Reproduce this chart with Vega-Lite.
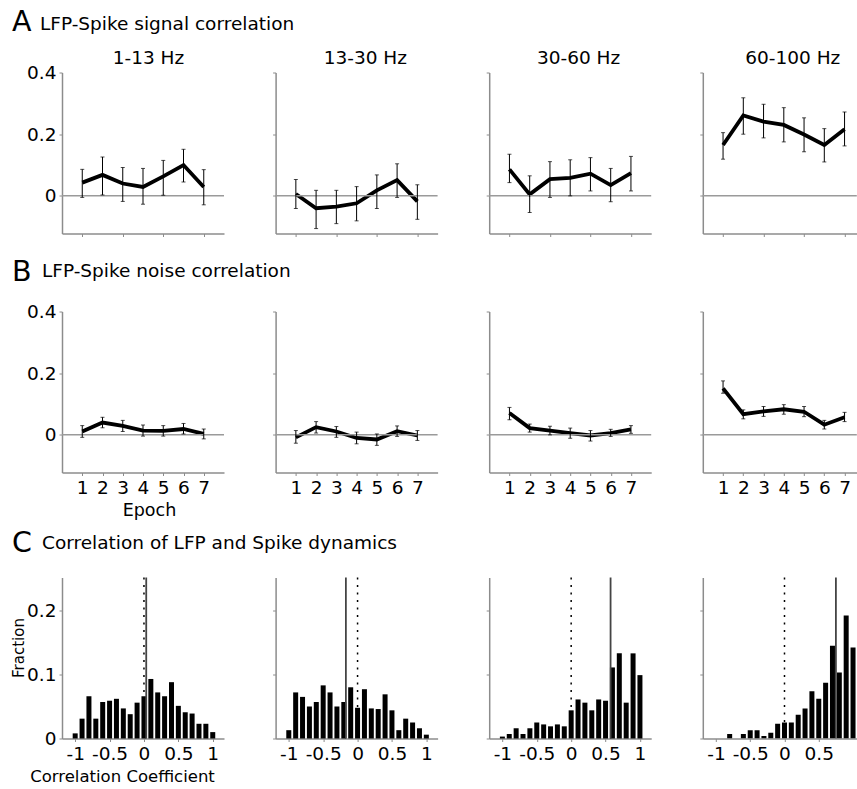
{
"$schema": "https://vega.github.io/schema/vega-lite/v6.json",
"padding": {"left": 10, "top": 7.5, "right": 0, "bottom": 0},
"config": {
  "font": "DejaVu Sans",
  "view": {"stroke": null},
  "axis": {"domainColor": "#8c8c8c", "domainWidth": 1.5, "tickColor": "#8c8c8c", "tickWidth": 1, "tickSize": 3, "labelFont": "DejaVu Sans", "labelFontSize": 18.5, "labelColor": "black", "titleFont": "DejaVu Sans", "titleFontSize": 16.5, "titleFontWeight": "normal", "titleColor": "black", "grid": false, "labelPadding": 3, "labelOverlap": false},
  "title": {"font": "DejaVu Sans", "fontWeight": "normal", "color": "black", "fontSize": 18.5, "baseline": "alphabetic", "offset": 5}
},
"datasets": {
  "lines": [
    {"row":"signal","band":"1-13 Hz","epoch":1,"mean":0.043,"lo":-0.005,"hi":0.086},
    {"row":"signal","band":"1-13 Hz","epoch":2,"mean":0.068,"lo":0.003,"hi":0.126},
    {"row":"signal","band":"1-13 Hz","epoch":3,"mean":0.040,"lo":-0.018,"hi":0.092},
    {"row":"signal","band":"1-13 Hz","epoch":4,"mean":0.029,"lo":-0.027,"hi":0.089},
    {"row":"signal","band":"1-13 Hz","epoch":5,"mean":0.063,"lo":0.002,"hi":0.115},
    {"row":"signal","band":"1-13 Hz","epoch":6,"mean":0.100,"lo":0.045,"hi":0.151},
    {"row":"signal","band":"1-13 Hz","epoch":7,"mean":0.029,"lo":-0.029,"hi":0.085},
    {"row":"signal","band":"13-30 Hz","epoch":1,"mean":0.006,"lo":-0.041,"hi":0.053},
    {"row":"signal","band":"13-30 Hz","epoch":2,"mean":-0.040,"lo":-0.106,"hi":0.018},
    {"row":"signal","band":"13-30 Hz","epoch":3,"mean":-0.035,"lo":-0.090,"hi":0.018},
    {"row":"signal","band":"13-30 Hz","epoch":4,"mean":-0.024,"lo":-0.081,"hi":0.030},
    {"row":"signal","band":"13-30 Hz","epoch":5,"mean":0.018,"lo":-0.041,"hi":0.068},
    {"row":"signal","band":"13-30 Hz","epoch":6,"mean":0.051,"lo":-0.005,"hi":0.104},
    {"row":"signal","band":"13-30 Hz","epoch":7,"mean":-0.018,"lo":-0.076,"hi":0.036},
    {"row":"signal","band":"30-60 Hz","epoch":1,"mean":0.086,"lo":0.043,"hi":0.135},
    {"row":"signal","band":"30-60 Hz","epoch":2,"mean":0.005,"lo":-0.054,"hi":0.065},
    {"row":"signal","band":"30-60 Hz","epoch":3,"mean":0.054,"lo":-0.005,"hi":0.111},
    {"row":"signal","band":"30-60 Hz","epoch":4,"mean":0.058,"lo":0.000,"hi":0.117},
    {"row":"signal","band":"30-60 Hz","epoch":5,"mean":0.072,"lo":0.016,"hi":0.124},
    {"row":"signal","band":"30-60 Hz","epoch":6,"mean":0.035,"lo":-0.019,"hi":0.089},
    {"row":"signal","band":"30-60 Hz","epoch":7,"mean":0.074,"lo":0.016,"hi":0.128},
    {"row":"signal","band":"60-100 Hz","epoch":1,"mean":0.165,"lo":0.119,"hi":0.205},
    {"row":"signal","band":"60-100 Hz","epoch":2,"mean":0.261,"lo":0.200,"hi":0.318},
    {"row":"signal","band":"60-100 Hz","epoch":3,"mean":0.241,"lo":0.188,"hi":0.297},
    {"row":"signal","band":"60-100 Hz","epoch":4,"mean":0.230,"lo":0.175,"hi":0.286},
    {"row":"signal","band":"60-100 Hz","epoch":5,"mean":0.199,"lo":0.143,"hi":0.253},
    {"row":"signal","band":"60-100 Hz","epoch":6,"mean":0.165,"lo":0.110,"hi":0.218},
    {"row":"signal","band":"60-100 Hz","epoch":7,"mean":0.216,"lo":0.162,"hi":0.272},
    {"row":"noise","band":"1-13 Hz","epoch":1,"mean":0.011,"lo":-0.008,"hi":0.030},
    {"row":"noise","band":"1-13 Hz","epoch":2,"mean":0.040,"lo":0.023,"hi":0.057},
    {"row":"noise","band":"1-13 Hz","epoch":3,"mean":0.029,"lo":0.011,"hi":0.047},
    {"row":"noise","band":"1-13 Hz","epoch":4,"mean":0.014,"lo":-0.004,"hi":0.032},
    {"row":"noise","band":"1-13 Hz","epoch":5,"mean":0.013,"lo":-0.004,"hi":0.030},
    {"row":"noise","band":"1-13 Hz","epoch":6,"mean":0.019,"lo":0.003,"hi":0.037},
    {"row":"noise","band":"1-13 Hz","epoch":7,"mean":0.003,"lo":-0.013,"hi":0.019},
    {"row":"noise","band":"13-30 Hz","epoch":1,"mean":-0.008,"lo":-0.027,"hi":0.014},
    {"row":"noise","band":"13-30 Hz","epoch":2,"mean":0.025,"lo":0.006,"hi":0.043},
    {"row":"noise","band":"13-30 Hz","epoch":3,"mean":0.011,"lo":-0.008,"hi":0.027},
    {"row":"noise","band":"13-30 Hz","epoch":4,"mean":-0.010,"lo":-0.029,"hi":0.009},
    {"row":"noise","band":"13-30 Hz","epoch":5,"mean":-0.015,"lo":-0.034,"hi":0.003},
    {"row":"noise","band":"13-30 Hz","epoch":6,"mean":0.012,"lo":-0.005,"hi":0.029},
    {"row":"noise","band":"13-30 Hz","epoch":7,"mean":-0.002,"lo":-0.018,"hi":0.014},
    {"row":"noise","band":"30-60 Hz","epoch":1,"mean":0.071,"lo":0.049,"hi":0.089},
    {"row":"noise","band":"30-60 Hz","epoch":2,"mean":0.022,"lo":0.009,"hi":0.035},
    {"row":"noise","band":"30-60 Hz","epoch":3,"mean":0.014,"lo":0.000,"hi":0.028},
    {"row":"noise","band":"30-60 Hz","epoch":4,"mean":0.006,"lo":-0.011,"hi":0.022},
    {"row":"noise","band":"30-60 Hz","epoch":5,"mean":-0.002,"lo":-0.020,"hi":0.014},
    {"row":"noise","band":"30-60 Hz","epoch":6,"mean":0.006,"lo":-0.005,"hi":0.018},
    {"row":"noise","band":"30-60 Hz","epoch":7,"mean":0.018,"lo":0.005,"hi":0.030},
    {"row":"noise","band":"60-100 Hz","epoch":1,"mean":0.151,"lo":0.135,"hi":0.175},
    {"row":"noise","band":"60-100 Hz","epoch":2,"mean":0.067,"lo":0.052,"hi":0.081},
    {"row":"noise","band":"60-100 Hz","epoch":3,"mean":0.076,"lo":0.060,"hi":0.092},
    {"row":"noise","band":"60-100 Hz","epoch":4,"mean":0.083,"lo":0.067,"hi":0.098},
    {"row":"noise","band":"60-100 Hz","epoch":5,"mean":0.075,"lo":0.059,"hi":0.092},
    {"row":"noise","band":"60-100 Hz","epoch":6,"mean":0.033,"lo":0.019,"hi":0.047},
    {"row":"noise","band":"60-100 Hz","epoch":7,"mean":0.057,"lo":0.043,"hi":0.073}
  ],
  "hist": [
    {"band":"1-13 Hz","r":-1,"frac":0.008},{"band":"1-13 Hz","r":-0.9,"frac":0.031},{"band":"1-13 Hz","r":-0.8,"frac":0.066},{"band":"1-13 Hz","r":-0.7,"frac":0.031},{"band":"1-13 Hz","r":-0.6,"frac":0.057},{"band":"1-13 Hz","r":-0.5,"frac":0.059},{"band":"1-13 Hz","r":-0.4,"frac":0.062},{"band":"1-13 Hz","r":-0.3,"frac":0.047},{"band":"1-13 Hz","r":-0.2,"frac":0.038},{"band":"1-13 Hz","r":-0.1,"frac":0.056},{"band":"1-13 Hz","r":0,"frac":0.066},{"band":"1-13 Hz","r":0.1,"frac":0.093},{"band":"1-13 Hz","r":0.2,"frac":0.072},{"band":"1-13 Hz","r":0.3,"frac":0.066},{"band":"1-13 Hz","r":0.4,"frac":0.088},{"band":"1-13 Hz","r":0.5,"frac":0.051},{"band":"1-13 Hz","r":0.6,"frac":0.041},{"band":"1-13 Hz","r":0.7,"frac":0.039},{"band":"1-13 Hz","r":0.8,"frac":0.023},{"band":"1-13 Hz","r":0.9,"frac":0.023},{"band":"1-13 Hz","r":1,"frac":0.010},
    {"band":"13-30 Hz","r":-1,"frac":0.013},{"band":"13-30 Hz","r":-0.9,"frac":0.072},{"band":"13-30 Hz","r":-0.8,"frac":0.065},{"band":"13-30 Hz","r":-0.7,"frac":0.050},{"band":"13-30 Hz","r":-0.6,"frac":0.057},{"band":"13-30 Hz","r":-0.5,"frac":0.083},{"band":"13-30 Hz","r":-0.4,"frac":0.072},{"band":"13-30 Hz","r":-0.3,"frac":0.050},{"band":"13-30 Hz","r":-0.2,"frac":0.057},{"band":"13-30 Hz","r":-0.1,"frac":0.080},{"band":"13-30 Hz","r":0,"frac":0.048},{"band":"13-30 Hz","r":0.1,"frac":0.077},{"band":"13-30 Hz","r":0.2,"frac":0.047},{"band":"13-30 Hz","r":0.3,"frac":0.046},{"band":"13-30 Hz","r":0.4,"frac":0.069},{"band":"13-30 Hz","r":0.5,"frac":0.044},{"band":"13-30 Hz","r":0.6,"frac":0.013},{"band":"13-30 Hz","r":0.7,"frac":0.031},{"band":"13-30 Hz","r":0.8,"frac":0.025},{"band":"13-30 Hz","r":0.9,"frac":0.016},{"band":"13-30 Hz","r":1,"frac":0.006},
    {"band":"30-60 Hz","r":-1,"frac":0.003},{"band":"30-60 Hz","r":-0.9,"frac":0.007},{"band":"30-60 Hz","r":-0.8,"frac":0.016},{"band":"30-60 Hz","r":-0.7,"frac":0.007},{"band":"30-60 Hz","r":-0.6,"frac":0.016},{"band":"30-60 Hz","r":-0.5,"frac":0.025},{"band":"30-60 Hz","r":-0.4,"frac":0.022},{"band":"30-60 Hz","r":-0.3,"frac":0.019},{"band":"30-60 Hz","r":-0.2,"frac":0.022},{"band":"30-60 Hz","r":-0.1,"frac":0.019},{"band":"30-60 Hz","r":0,"frac":0.044},{"band":"30-60 Hz","r":0.1,"frac":0.061},{"band":"30-60 Hz","r":0.2,"frac":0.056},{"band":"30-60 Hz","r":0.3,"frac":0.044},{"band":"30-60 Hz","r":0.4,"frac":0.061},{"band":"30-60 Hz","r":0.5,"frac":0.059},{"band":"30-60 Hz","r":0.6,"frac":0.111},{"band":"30-60 Hz","r":0.7,"frac":0.133},{"band":"30-60 Hz","r":0.8,"frac":0.056},{"band":"30-60 Hz","r":0.9,"frac":0.133},{"band":"30-60 Hz","r":1,"frac":0.099},
    {"band":"60-100 Hz","r":-0.8,"frac":0.007},{"band":"60-100 Hz","r":-0.6,"frac":0.007},{"band":"60-100 Hz","r":-0.5,"frac":0.013},{"band":"60-100 Hz","r":-0.4,"frac":0.013},{"band":"60-100 Hz","r":-0.3,"frac":0.004},{"band":"60-100 Hz","r":-0.2,"frac":0.009},{"band":"60-100 Hz","r":-0.1,"frac":0.023},{"band":"60-100 Hz","r":0,"frac":0.025},{"band":"60-100 Hz","r":0.1,"frac":0.025},{"band":"60-100 Hz","r":0.2,"frac":0.037},{"band":"60-100 Hz","r":0.3,"frac":0.047},{"band":"60-100 Hz","r":0.4,"frac":0.074},{"band":"60-100 Hz","r":0.5,"frac":0.062},{"band":"60-100 Hz","r":0.6,"frac":0.087},{"band":"60-100 Hz","r":0.7,"frac":0.145},{"band":"60-100 Hz","r":0.8,"frac":0.103},{"band":"60-100 Hz","r":0.9,"frac":0.192},{"band":"60-100 Hz","r":1,"frac":0.142}
  ],
  "med": [
    {"band":"1-13 Hz","median":0.033},
    {"band":"13-30 Hz","median":-0.17},
    {"band":"30-60 Hz","median":0.573},
    {"band":"60-100 Hz","median":0.75}
  ]
},
"bounds": "flush",
"spacing": 239,
"vconcat": [
  {
    "title": {"text": "A", "fontSize": 28.5, "anchor": "start", "frame": "group", "dx": -50, "offset": -21.2},
    "bounds": "flush",
    "vconcat": [
      {
        "title": {"text": "LFP-Spike signal correlation", "anchor": "start", "frame": "group", "dx": -22, "offset": 15.2},
        "bounds": "flush",
        "spacing": 51.6,
        "hconcat": [
          {"width": 162, "height": 161, "title": {"text": "1-13 Hz", "dx": 5.5, "offset": -4.2},
           "layer": [
            {"data": {"name": "lines"}, "transform": [{"filter": "datum.row == 'signal' && datum.band == '1-13 Hz'"}], "mark": {"type": "line", "color": "black", "strokeWidth": 3.8}, "encoding": {"x": {"field": "epoch", "type": "quantitative", "scale": {"domain": [0, 8]}, "axis": {"values": [1,2,3,4,5,6,7], "labels": false, "title": null}}, "y": {"field": "mean", "type": "quantitative", "scale": {"domain": [-0.122, 0.4]}, "axis": {"values": [0, 0.2, 0.4], "format": "~g", "title": null}}}},
            {"data": {"values": [{}]}, "mark": {"type": "rule", "color": "#9a9a9a", "strokeWidth": 1.5}, "encoding": {"y": {"datum": 0, "type": "quantitative", "scale": {"domain": [-0.122, 0.4]}}}},
            {"data": {"name": "lines"}, "transform": [{"filter": "datum.row == 'signal' && datum.band == '1-13 Hz'"}], "mark": {"type": "errorbar", "color": "black", "thickness": 1, "ticks": {"size": 4}}, "encoding": {"x": {"field": "epoch", "type": "quantitative", "scale": {"domain": [0, 8]}}, "y": {"field": "lo", "type": "quantitative", "scale": {"domain": [-0.122, 0.4]}}, "y2": {"field": "hi"}}}
           ]},
          {"width": 162, "height": 161, "title": {"text": "13-30 Hz", "dx": 8.7},
           "layer": [
            {"data": {"name": "lines"}, "transform": [{"filter": "datum.row == 'signal' && datum.band == '13-30 Hz'"}], "mark": {"type": "line", "color": "black", "strokeWidth": 3.8}, "encoding": {"x": {"field": "epoch", "type": "quantitative", "scale": {"domain": [0, 8]}, "axis": {"values": [1,2,3,4,5,6,7], "labels": false, "title": null}}, "y": {"field": "mean", "type": "quantitative", "scale": {"domain": [-0.122, 0.4]}, "axis": {"values": [0, 0.2, 0.4], "labels": false, "title": null}}}},
            {"data": {"values": [{}]}, "mark": {"type": "rule", "color": "#9a9a9a", "strokeWidth": 1.5}, "encoding": {"y": {"datum": 0, "type": "quantitative", "scale": {"domain": [-0.122, 0.4]}}}},
            {"data": {"name": "lines"}, "transform": [{"filter": "datum.row == 'signal' && datum.band == '13-30 Hz'"}], "mark": {"type": "errorbar", "color": "black", "thickness": 1, "ticks": {"size": 4}}, "encoding": {"x": {"field": "epoch", "type": "quantitative", "scale": {"domain": [0, 8]}}, "y": {"field": "lo", "type": "quantitative", "scale": {"domain": [-0.122, 0.4]}}, "y2": {"field": "hi"}}}
           ]},
          {"width": 162, "height": 161, "title": {"text": "30-60 Hz", "dx": 8.4},
           "layer": [
            {"data": {"name": "lines"}, "transform": [{"filter": "datum.row == 'signal' && datum.band == '30-60 Hz'"}], "mark": {"type": "line", "color": "black", "strokeWidth": 3.8}, "encoding": {"x": {"field": "epoch", "type": "quantitative", "scale": {"domain": [0, 8]}, "axis": {"values": [1,2,3,4,5,6,7], "labels": false, "title": null}}, "y": {"field": "mean", "type": "quantitative", "scale": {"domain": [-0.122, 0.4]}, "axis": {"values": [0, 0.2, 0.4], "labels": false, "title": null}}}},
            {"data": {"values": [{}]}, "mark": {"type": "rule", "color": "#9a9a9a", "strokeWidth": 1.5}, "encoding": {"y": {"datum": 0, "type": "quantitative", "scale": {"domain": [-0.122, 0.4]}}}},
            {"data": {"name": "lines"}, "transform": [{"filter": "datum.row == 'signal' && datum.band == '30-60 Hz'"}], "mark": {"type": "errorbar", "color": "black", "thickness": 1, "ticks": {"size": 4}}, "encoding": {"x": {"field": "epoch", "type": "quantitative", "scale": {"domain": [0, 8]}}, "y": {"field": "lo", "type": "quantitative", "scale": {"domain": [-0.122, 0.4]}}, "y2": {"field": "hi"}}}
           ]},
          {"width": 154, "height": 161, "title": {"text": "60-100 Hz", "dx": 13},
           "layer": [
            {"data": {"name": "lines"}, "transform": [{"filter": "datum.row == 'signal' && datum.band == '60-100 Hz'"}], "mark": {"type": "line", "color": "black", "strokeWidth": 3.8}, "encoding": {"x": {"field": "epoch", "type": "quantitative", "scale": {"domain": [0, 7.605]}, "axis": {"values": [1,2,3,4,5,6,7], "labels": false, "title": null}}, "y": {"field": "mean", "type": "quantitative", "scale": {"domain": [-0.122, 0.4]}, "axis": {"values": [0, 0.2, 0.4], "labels": false, "title": null}}}},
            {"data": {"values": [{}]}, "mark": {"type": "rule", "color": "#9a9a9a", "strokeWidth": 1.5}, "encoding": {"y": {"datum": 0, "type": "quantitative", "scale": {"domain": [-0.122, 0.4]}}}},
            {"data": {"name": "lines"}, "transform": [{"filter": "datum.row == 'signal' && datum.band == '60-100 Hz'"}], "mark": {"type": "errorbar", "color": "black", "thickness": 1, "ticks": {"size": 4}}, "encoding": {"x": {"field": "epoch", "type": "quantitative", "scale": {"domain": [0, 7.605]}}, "y": {"field": "lo", "type": "quantitative", "scale": {"domain": [-0.122, 0.4]}}, "y2": {"field": "hi"}}}
           ]}
        ]
      }
    ]
  },
  {
    "bounds": "flush",
    "spacing": 266,
    "vconcat": [
      {
        "title": {"text": "B", "fontSize": 28.5, "anchor": "start", "frame": "group", "dx": -50, "offset": -24},
        "bounds": "flush",
        "vconcat": [
          {
            "title": {"text": "LFP-Spike noise correlation", "anchor": "start", "frame": "group", "dx": -20, "offset": 22},
            "bounds": "flush",
            "spacing": 51.6,
            "hconcat": [
              {"width": 162, "height": 161,
               "layer": [
                {"data": {"name": "lines"}, "transform": [{"filter": "datum.row == 'noise' && datum.band == '1-13 Hz'"}], "mark": {"type": "line", "color": "black", "strokeWidth": 3.8}, "encoding": {"x": {"field": "epoch", "type": "quantitative", "scale": {"domain": [0, 8]}, "axis": {"values": [1,2,3,4,5,6,7], "format": "d", "labelOverlap": false, "labelFlush": false, "title": "Epoch", "titleX": 87, "titleFontSize": 17.5}}, "y": {"field": "mean", "type": "quantitative", "scale": {"domain": [-0.122, 0.4]}, "axis": {"values": [0, 0.2, 0.4], "format": "~g", "title": null}}}},
                {"data": {"values": [{}]}, "mark": {"type": "rule", "color": "#9a9a9a", "strokeWidth": 1.5}, "encoding": {"y": {"datum": 0, "type": "quantitative", "scale": {"domain": [-0.122, 0.4]}}}},
                {"data": {"name": "lines"}, "transform": [{"filter": "datum.row == 'noise' && datum.band == '1-13 Hz'"}], "mark": {"type": "errorbar", "color": "black", "thickness": 1, "ticks": {"size": 4}}, "encoding": {"x": {"field": "epoch", "type": "quantitative", "scale": {"domain": [0, 8]}, "axis": {"values": [1,2,3,4,5,6,7], "format": "d", "labelOverlap": false, "labelFlush": false, "title": "Epoch", "titleX": 87, "titleFontSize": 17.5}}, "y": {"field": "lo", "type": "quantitative", "scale": {"domain": [-0.122, 0.4]}}, "y2": {"field": "hi"}}}
               ]},
              {"width": 162, "height": 161,
               "layer": [
                {"data": {"name": "lines"}, "transform": [{"filter": "datum.row == 'noise' && datum.band == '13-30 Hz'"}], "mark": {"type": "line", "color": "black", "strokeWidth": 3.8}, "encoding": {"x": {"field": "epoch", "type": "quantitative", "scale": {"domain": [0, 8]}, "axis": {"values": [1,2,3,4,5,6,7], "format": "d", "labelOverlap": false, "labelFlush": false, "title": null}}, "y": {"field": "mean", "type": "quantitative", "scale": {"domain": [-0.122, 0.4]}, "axis": {"values": [0, 0.2, 0.4], "labels": false, "title": null}}}},
                {"data": {"values": [{}]}, "mark": {"type": "rule", "color": "#9a9a9a", "strokeWidth": 1.5}, "encoding": {"y": {"datum": 0, "type": "quantitative", "scale": {"domain": [-0.122, 0.4]}}}},
                {"data": {"name": "lines"}, "transform": [{"filter": "datum.row == 'noise' && datum.band == '13-30 Hz'"}], "mark": {"type": "errorbar", "color": "black", "thickness": 1, "ticks": {"size": 4}}, "encoding": {"x": {"field": "epoch", "type": "quantitative", "scale": {"domain": [0, 8]}, "axis": {"values": [1,2,3,4,5,6,7], "format": "d", "labelOverlap": false, "labelFlush": false, "title": null}}, "y": {"field": "lo", "type": "quantitative", "scale": {"domain": [-0.122, 0.4]}}, "y2": {"field": "hi"}}}
               ]},
              {"width": 162, "height": 161,
               "layer": [
                {"data": {"name": "lines"}, "transform": [{"filter": "datum.row == 'noise' && datum.band == '30-60 Hz'"}], "mark": {"type": "line", "color": "black", "strokeWidth": 3.8}, "encoding": {"x": {"field": "epoch", "type": "quantitative", "scale": {"domain": [0, 8]}, "axis": {"values": [1,2,3,4,5,6,7], "format": "d", "labelOverlap": false, "labelFlush": false, "title": null}}, "y": {"field": "mean", "type": "quantitative", "scale": {"domain": [-0.122, 0.4]}, "axis": {"values": [0, 0.2, 0.4], "labels": false, "title": null}}}},
                {"data": {"values": [{}]}, "mark": {"type": "rule", "color": "#9a9a9a", "strokeWidth": 1.5}, "encoding": {"y": {"datum": 0, "type": "quantitative", "scale": {"domain": [-0.122, 0.4]}}}},
                {"data": {"name": "lines"}, "transform": [{"filter": "datum.row == 'noise' && datum.band == '30-60 Hz'"}], "mark": {"type": "errorbar", "color": "black", "thickness": 1, "ticks": {"size": 4}}, "encoding": {"x": {"field": "epoch", "type": "quantitative", "scale": {"domain": [0, 8]}, "axis": {"values": [1,2,3,4,5,6,7], "format": "d", "labelOverlap": false, "labelFlush": false, "title": null}}, "y": {"field": "lo", "type": "quantitative", "scale": {"domain": [-0.122, 0.4]}}, "y2": {"field": "hi"}}}
               ]},
              {"width": 154, "height": 161,
               "layer": [
                {"data": {"name": "lines"}, "transform": [{"filter": "datum.row == 'noise' && datum.band == '60-100 Hz'"}], "mark": {"type": "line", "color": "black", "strokeWidth": 3.8}, "encoding": {"x": {"field": "epoch", "type": "quantitative", "scale": {"domain": [0, 7.605]}, "axis": {"values": [1,2,3,4,5,6,7], "format": "d", "labelOverlap": false, "labelFlush": false, "title": null}}, "y": {"field": "mean", "type": "quantitative", "scale": {"domain": [-0.122, 0.4]}, "axis": {"values": [0, 0.2, 0.4], "labels": false, "title": null}}}},
                {"data": {"values": [{}]}, "mark": {"type": "rule", "color": "#9a9a9a", "strokeWidth": 1.5}, "encoding": {"y": {"datum": 0, "type": "quantitative", "scale": {"domain": [-0.122, 0.4]}}}},
                {"data": {"name": "lines"}, "transform": [{"filter": "datum.row == 'noise' && datum.band == '60-100 Hz'"}], "mark": {"type": "errorbar", "color": "black", "thickness": 1, "ticks": {"size": 4}}, "encoding": {"x": {"field": "epoch", "type": "quantitative", "scale": {"domain": [0, 7.605]}, "axis": {"values": [1,2,3,4,5,6,7], "format": "d", "labelOverlap": false, "labelFlush": false, "title": null}}, "y": {"field": "lo", "type": "quantitative", "scale": {"domain": [-0.122, 0.4]}}, "y2": {"field": "hi"}}}
               ]}
            ]
          }
        ]
      },
      {
        "title": {"text": "C", "fontSize": 28.5, "anchor": "start", "frame": "group", "dx": -50, "offset": -23},
        "bounds": "flush",
        "vconcat": [
          {
            "title": {"text": "Correlation of LFP and Spike dynamics", "anchor": "start", "frame": "group", "dx": -20, "offset": 24},
            "bounds": "flush",
            "spacing": 51.6,
            "hconcat": [
              {"width": 162, "height": 161,
               "layer": [
                {"data": {"name": "hist"}, "transform": [{"filter": "datum.band == '1-13 Hz'"}], "mark": {"type": "bar", "color": "black", "width": 5}, "encoding": {"x": {"field": "r", "type": "quantitative", "scale": {"domain": [-1.119, 1.091]}, "axis": {"values": [-1, -0.5, 0, 0.5, 1], "labelExpr": "'' + datum.value", "labelOverlap": false, "title": "Correlation Coefficient", "titleX": 60, "titlePadding": 5}}, "y": {"field": "frac", "type": "quantitative", "scale": {"domain": [0, 0.2515]}, "axis": {"values": [0, 0.1, 0.2], "format": "~g", "title": "Fraction", "titleFontSize": 15, "titleY": 70, "titleX": -36}}}},
                {"data": {"values": [{}]}, "mark": {"type": "rule", "color": "black", "strokeWidth": 1.5, "strokeDash": [2, 5.5]}, "encoding": {"x": {"datum": 0, "type": "quantitative", "scale": {"domain": [-1.119, 1.091]}}}},
                {"data": {"name": "med"}, "transform": [{"filter": "datum.band == '1-13 Hz'"}], "mark": {"type": "rule", "color": "#444444", "strokeWidth": 1.8}, "encoding": {"x": {"field": "median", "type": "quantitative", "scale": {"domain": [-1.119, 1.091]}}}}
               ]},
              {"width": 162, "height": 161,
               "layer": [
                {"data": {"name": "hist"}, "transform": [{"filter": "datum.band == '13-30 Hz'"}], "mark": {"type": "bar", "color": "black", "width": 5}, "encoding": {"x": {"field": "r", "type": "quantitative", "scale": {"domain": [-1.119, 1.091]}, "axis": {"values": [-1, -0.5, 0, 0.5, 1], "labelExpr": "'' + datum.value", "labelOverlap": false, "title": null}}, "y": {"field": "frac", "type": "quantitative", "scale": {"domain": [0, 0.2515]}, "axis": {"values": [0, 0.1, 0.2], "labels": false, "title": null}}}},
                {"data": {"values": [{}]}, "mark": {"type": "rule", "color": "black", "strokeWidth": 1.5, "strokeDash": [2, 5.5]}, "encoding": {"x": {"datum": 0, "type": "quantitative", "scale": {"domain": [-1.119, 1.091]}}}},
                {"data": {"name": "med"}, "transform": [{"filter": "datum.band == '13-30 Hz'"}], "mark": {"type": "rule", "color": "#444444", "strokeWidth": 1.8}, "encoding": {"x": {"field": "median", "type": "quantitative", "scale": {"domain": [-1.119, 1.091]}}}}
               ]},
              {"width": 162, "height": 161,
               "layer": [
                {"data": {"name": "hist"}, "transform": [{"filter": "datum.band == '30-60 Hz'"}], "mark": {"type": "bar", "color": "black", "width": 5}, "encoding": {"x": {"field": "r", "type": "quantitative", "scale": {"domain": [-1.119, 1.091]}, "axis": {"values": [-1, -0.5, 0, 0.5, 1], "labelExpr": "'' + datum.value", "labelOverlap": false, "title": null}}, "y": {"field": "frac", "type": "quantitative", "scale": {"domain": [0, 0.2515]}, "axis": {"values": [0, 0.1, 0.2], "labels": false, "title": null}}}},
                {"data": {"values": [{}]}, "mark": {"type": "rule", "color": "black", "strokeWidth": 1.5, "strokeDash": [2, 5.5]}, "encoding": {"x": {"datum": 0, "type": "quantitative", "scale": {"domain": [-1.119, 1.091]}}}},
                {"data": {"name": "med"}, "transform": [{"filter": "datum.band == '30-60 Hz'"}], "mark": {"type": "rule", "color": "#444444", "strokeWidth": 1.8}, "encoding": {"x": {"field": "median", "type": "quantitative", "scale": {"domain": [-1.119, 1.091]}}}}
               ]},
              {"width": 154, "height": 161,
               "layer": [
                {"data": {"name": "hist"}, "transform": [{"filter": "datum.band == '60-100 Hz'"}], "mark": {"type": "bar", "color": "black", "width": 5, "clip": true}, "encoding": {"x": {"field": "r", "type": "quantitative", "scale": {"domain": [-1.119, 0.982]}, "axis": {"values": [-1, -0.5, 0, 0.5], "labelExpr": "'' + datum.value", "labelOverlap": false, "title": null}}, "y": {"field": "frac", "type": "quantitative", "scale": {"domain": [0, 0.2515]}, "axis": {"values": [0, 0.1, 0.2], "labels": false, "title": null}}}},
                {"data": {"values": [{}]}, "mark": {"type": "rule", "color": "black", "strokeWidth": 1.5, "strokeDash": [2, 5.5]}, "encoding": {"x": {"datum": 0, "type": "quantitative", "scale": {"domain": [-1.119, 0.982]}}}},
                {"data": {"name": "med"}, "transform": [{"filter": "datum.band == '60-100 Hz'"}], "mark": {"type": "rule", "color": "#444444", "strokeWidth": 1.8}, "encoding": {"x": {"field": "median", "type": "quantitative", "scale": {"domain": [-1.119, 0.982]}}}}
               ]}
            ]
          }
        ]
      }
    ]
  }
]
}
